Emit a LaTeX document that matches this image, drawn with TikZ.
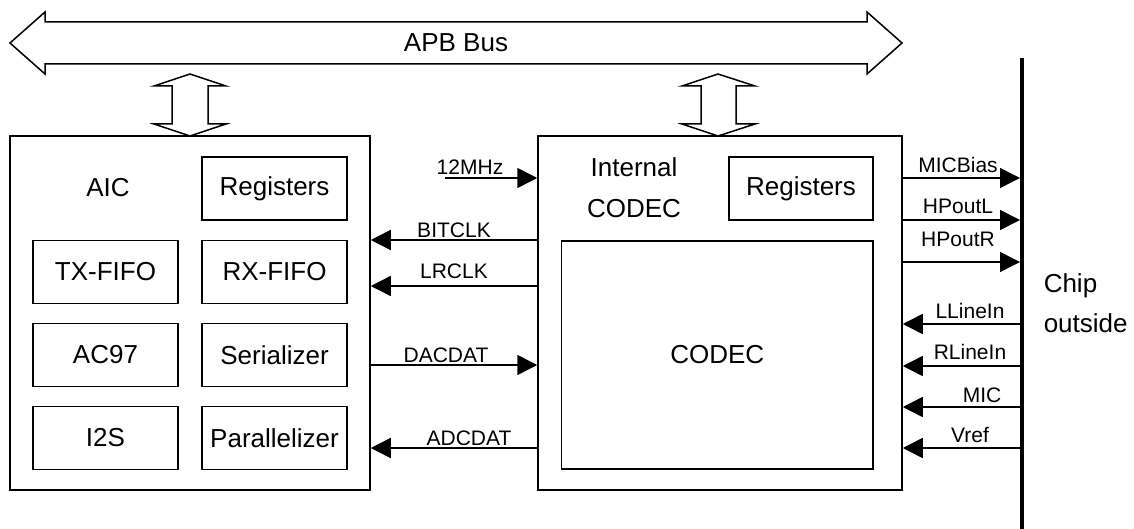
\documentclass[tikz,border=0pt]{standalone}
\usepackage{fontspec}
\setmainfont{Liberation Sans}
\usetikzlibrary{arrows.meta}
\newcommand\bigtxt{\fontsize{26}{31}\selectfont}
\newcommand\sigtxt{\fontsize{21}{25}\selectfont}
\begin{document}
\begin{tikzpicture}[x=1pt,y=-1pt,line width=1.5pt,
  box/.style={draw,line width=1.5pt,inner sep=0pt,font=\bigtxt},
  cell/.style={box,minimum width=145pt,minimum height=63pt},
  sig/.style={line width=1.5pt,-{Triangle[length=20pt,width=20pt]}},
  lbl/.style={font=\sigtxt,anchor=base,inner sep=0pt},
  bigarrow/.style={draw,fill=white,line width=1.5pt,line join=miter}]
\useasboundingbox (0,0) rectangle (1134,529);
% APB bus
\draw[bigarrow] (10,43) -- (45,12) -- (45,22) -- (867,22) -- (867,12) -- (902,43)
  -- (867,74) -- (867,64) -- (45,64) -- (45,74) -- cycle;
\node[font=\bigtxt,inner sep=0pt] (apb) at (456,43) {APB Bus};
% vertical double arrows
\draw[bigarrow] (190,74) -- (226,86) -- (208,86) -- (208,124) -- (226,124) -- (190,136)
  -- (154,124) -- (172,124) -- (172,86) -- (154,86) -- cycle;
\draw[bigarrow] (718,74) -- (755,86) -- (736,86) -- (736,124) -- (755,124) -- (718,136)
  -- (682,124) -- (701,124) -- (701,86) -- (682,86) -- cycle;
% AIC
\node[box,minimum width=360pt,minimum height=354pt] (aic) at (190,313) {};
\node[font=\bigtxt,anchor=base,inner sep=0pt] (aiclbl) at (108,197) {AIC};
\node[cell] (aicreg) at (274.5,188.5) {Registers};
\node[cell] (txfifo) at (105.5,272) {TX-FIFO};
\node[cell] (rxfifo) at (274.5,272) {RX-FIFO};
\node[cell] (ac97) at (105.5,355) {AC97};
\node[cell] (ser) at (274.5,355) {Serializer};
\node[cell] (i2s) at (105.5,438) {I2S};
\node[cell] (par) at (274.5,438) {Parallelizer};
% CODEC
\node[box,minimum width=364pt,minimum height=354pt] (codec) at (720,313) {};
\node[font=\fontsize{26}{41}\selectfont,align=center,anchor=north,inner sep=0pt] (codeclbl) at (634,157) {Internal\\CODEC};
\node[box,minimum width=144pt,minimum height=63pt] (codecreg) at (801,188.5) {Registers};
\node[box,minimum width=311.5pt,minimum height=228pt] (core) at (717.25,355) {CODEC};
% chip edge
\node[fill=black,minimum width=4pt,minimum height=471pt,inner sep=0pt,outer sep=0pt,anchor=north] (edge) at (1022,58) {};
\node[font=\fontsize{26}{40}\selectfont,align=left,anchor=north west,inner sep=0pt] (chip) at (1043,273) {Chip\\outside};
% level coordinates
\foreach \n/\yy in {clk/178,bit/240,lr/286,dac/365,adc/448,mb/178,hl/220,hr/262,ll/324,rl/366,mic/407,vr/448}
  \coordinate (y\n) at (0,\yy);
\coordinate (clksrc) at (445,178);
% AIC <-> CODEC signals
\draw[sig] (clksrc) -- (codec.west |- yclk);
\draw[sig] (codec.west |- ybit) -- (aic.east |- ybit);
\draw[sig] (codec.west |- ylr) -- (aic.east |- ylr);
\draw[sig] (aic.east |- ydac) -- (codec.west |- ydac);
\draw[sig] (codec.west |- yadc) -- (aic.east |- yadc);
\node[lbl] (l12) at (470,175) {12MHz};
\node[lbl] (lbit) at (454,237) {BITCLK};
\node[lbl] (llr) at (454,278) {LRCLK};
\node[lbl] (ldac) at (446,362) {DACDAT};
\node[lbl] (ladc) at (469,445) {ADCDAT};
% CODEC <-> outside
\draw[sig] (codec.east |- ymb) -- (edge.west |- ymb);
\draw[sig] (codec.east |- yhl) -- (edge.west |- yhl);
\draw[sig] (codec.east |- yhr) -- (edge.west |- yhr);
\draw[sig] (edge.west |- yll) -- (codec.east |- yll);
\draw[sig] (edge.west |- yrl) -- (codec.east |- yrl);
\draw[sig] (edge.west |- ymic) -- (codec.east |- ymic);
\draw[sig] (edge.west |- yvr) -- (codec.east |- yvr);
\node[lbl] (lmb) at (958,173) {MICBias};
\node[lbl] (lhl) at (958,214) {HPoutL};
\node[lbl] (lhr) at (958,247) {HPoutR};
\node[lbl] (lll) at (970,318) {LLineIn};
\node[lbl] (lrl) at (970,359) {RLineIn};
\node[lbl] (lmic) at (982,402) {MIC};
\node[lbl] (lvr) at (970,442) {Vref};
\end{tikzpicture}
\end{document}
